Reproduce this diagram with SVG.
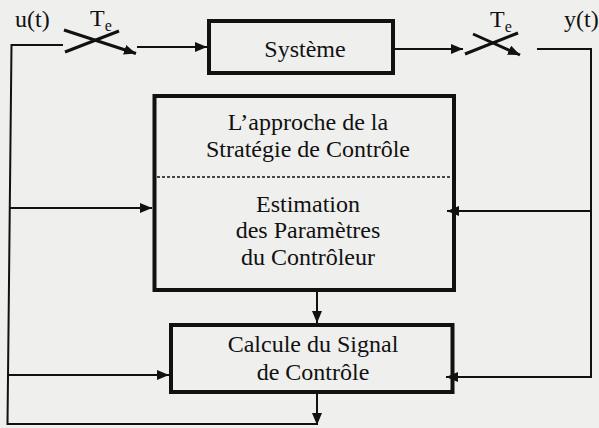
<svg xmlns="http://www.w3.org/2000/svg" width="599" height="428" viewBox="0 0 599 428">
  <defs>
    <marker id="arr" viewBox="0 0 12 10" refX="12" refY="5" markerWidth="12" markerHeight="10" markerUnits="userSpaceOnUse" orient="auto">
      <path d="M0,0 L12,5 L0,10 Z" fill="#111"/>
    </marker>
    <style>
      .box { fill: none; stroke: #111; stroke-width: 4; }
      .ln { fill: none; stroke: #111; stroke-width: 2; }
      .sw { fill: none; stroke: #111; stroke-width: 3; }
      text { font-family: 'Liberation Serif', serif; font-size: 24px; fill: #111; }
      .sub { font-size: 16px; }
      .mid { text-anchor: middle; }
    </style>
  </defs>
  <rect x="0" y="0" width="599" height="428" fill="#efefed"/>

  <g id="labels">
    <text x="15" y="27">u(t)</text>
    <text x="90" y="26">T<tspan class="sub" dy="5">e</tspan></text>
    <text x="490" y="27">T<tspan class="sub" dy="5">e</tspan></text>
    <text x="564" y="27">y(t)</text>
  </g>

  <g id="systeme">
    <rect class="box" x="209" y="21" width="184" height="52"/>
    <text class="mid" x="305" y="57">Système</text>
  </g>

  <g id="strategie">
    <rect class="box" x="154.5" y="96" width="299.5" height="194"/>
    <line x1="157" y1="177" x2="450" y2="177" stroke="#111" stroke-width="1.5" stroke-dasharray="3 2"/>
    <text class="mid" x="308" y="130">L’approche de la</text>
    <text class="mid" x="308" y="157">Stratégie de Contrôle</text>
    <text class="mid" x="308" y="212">Estimation</text>
    <text class="mid" x="308" y="238">des Paramètres</text>
    <text class="mid" x="308" y="265">du Contrôleur</text>
  </g>

  <g id="calcule">
    <rect class="box" x="171" y="325" width="281.5" height="67"/>
    <text class="mid" x="313" y="352">Calcule du Signal</text>
    <text class="mid" x="313" y="380">de Contrôle</text>
  </g>

  <g id="connectors">
    <line class="sw" x1="64" y1="30" x2="136" y2="53.5" marker-end="url(#arr)"/>
    <line class="sw" x1="65" y1="52" x2="119" y2="31"/>
    <line class="ln" x1="137" y1="47" x2="207" y2="47" marker-end="url(#arr)"/>
    <line class="ln" x1="395" y1="49" x2="463" y2="49" marker-end="url(#arr)"/>
    <line class="sw" x1="465" y1="54" x2="518" y2="33"/>
    <line class="sw" x1="473" y1="34" x2="520" y2="55" marker-end="url(#arr)"/>
    <polyline class="ln" points="537,49 591,49 591,377 446,377" marker-end="url(#arr)"/>
    <line class="ln" x1="591" y1="211" x2="447" y2="211" marker-end="url(#arr)"/>
    <polyline class="ln" points="63,45 11.5,45 7.5,424 316,424"/>
    <line class="ln" x1="9.5" y1="208" x2="152" y2="208" marker-end="url(#arr)"/>
    <line class="ln" x1="7.8" y1="375" x2="169" y2="375" marker-end="url(#arr)"/>
    <line class="ln" x1="317" y1="292" x2="317" y2="323" marker-end="url(#arr)"/>
    <line class="ln" x1="317" y1="393" x2="317" y2="425" marker-end="url(#arr)"/>
  </g>
</svg>
